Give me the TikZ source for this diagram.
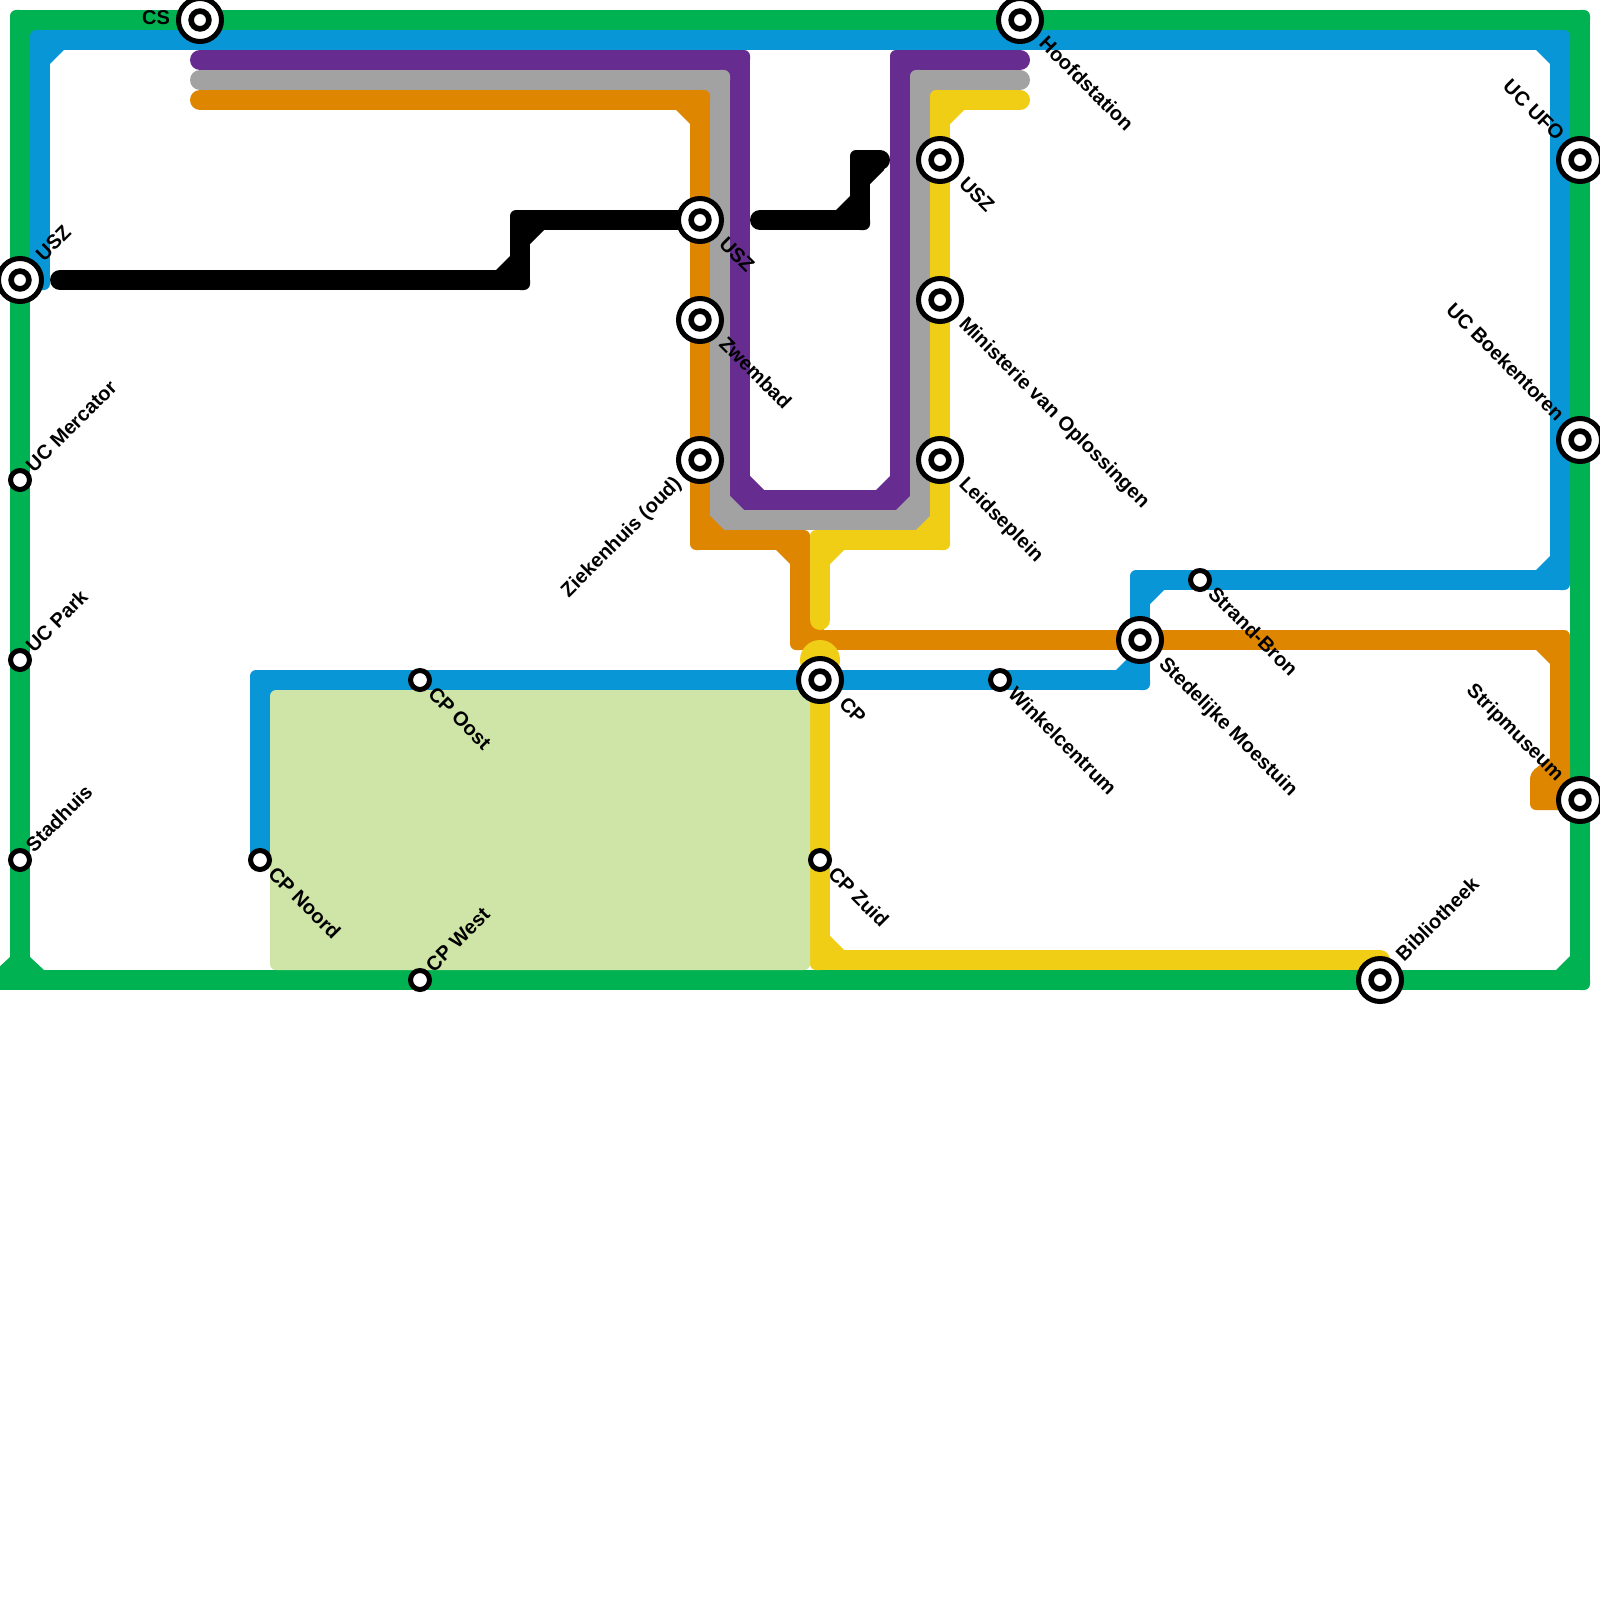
\documentclass[tikz,border=0pt]{standalone}
\usepackage{fontspec}
\setmainfont{Liberation Sans}
\definecolor{cgreen}{HTML}{00B251}
\definecolor{cblue}{HTML}{0896D7}
\definecolor{cpurple}{HTML}{662C90}
\definecolor{cgray}{HTML}{A2A2A2}
\definecolor{corange}{HTML}{DF8600}
\definecolor{cyellow}{HTML}{F0CE15}
\definecolor{carea}{HTML}{CFE4A7}
% corner patch: x, y, outward signs sx, sy, colour
% first part tightens the outer corner, second part adds the inner chamfer
\newcommand{\patch}[5]{%
  \fill[#5]
   (#1,#2) -- ({#1+10*#3},#2) -- ({#1+10*#3},{#2+4*#4})
   .. controls ({#1+10*#3},{#2+7.3*#4}) and ({#1+7.3*#3},{#2+10*#4}) .. ({#1+4*#3},{#2+10*#4})
   -- (#1,{#2+10*#4}) -- cycle
   ({#1-24*#3},{#2-10*#4}) -- ({#1-10*#3},{#2-24*#4}) -- ({#1-5*#3},{#2-24*#4}) -- ({#1-5*#3},{#2-5*#4}) -- ({#1-24*#3},{#2-5*#4}) -- cycle;}
\tikzset{
  metro/.style={line width=20pt,line cap=round,line join=round},
  lbl/.style={font=\fontsize{20}{24}\selectfont\bfseries,text=black,inner sep=0pt,outer sep=0pt},
  bigst/.style={circle,draw=black,fill=white,line width=5pt,minimum size=43pt,inner sep=0pt,outer sep=0pt,
    path picture={\draw[black,line width=5.6pt,fill=white] (path picture bounding box.center) circle (8.9pt);}},
  smallst/.style={circle,draw=black,fill=white,line width=5pt,minimum size=19pt,inner sep=0pt,outer sep=0pt},
}
\begin{document}
\begin{tikzpicture}[x=1pt,y=-1pt]
\useasboundingbox (0,0) rectangle (1600,1600);
\clip (0,0) rectangle (1600,1600);
\fill[white] (0,0) rectangle (1600,1600);
% waypoints
\foreach \n/\x/\y in {
 pa/200/60,pb/740/60,pc/740/500,pd/900/500,pe/900/60,pf/1020/60,
 ga/200/80,gb/720/80,gc/720/520,gd/920/520,ge/920/80,gf/1020/80,
 oa/200/100,ob/700/100,oc/700/540,od/800/540,oe/800/640,of/1560/640,og/1560/790,
 ya/1020/100,yb/940/100,yc/940/540,yd/820/540,ye/820/620,yf/820/960,yg/1380/960,yh/820/660,
 ka/60/280,kb/520/280,kc/520/220,kd/700/220,ke/760/220,kf/860/220,kg/860/160,kh/880/160,
 bz/20/280,ba/40/280,bb/40/40,bc/1560/40,bd/1560/580,be/1140/580,bf/1140/680,bg/260/680,bh/260/860,
 ea/20/980,eb/20/20,ec/1580/20,ed/1580/980,ee/0/980}
 {\coordinate (\n) at (\x,\y);}
% green
\draw[metro,cgreen,line cap=butt] (ea)--(eb)--(ec)--(ed)--(ee);
\patch{20}{20}{-1}{-1}{cgreen}\patch{1580}{20}{1}{-1}{cgreen}\patch{1580}{980}{1}{1}{cgreen}
\fill[cgreen] (30,957) -- (44,970) -- (44,975) -- (-4,975) -- (-4,970) -- (10,957) -- cycle;
% purple
\draw[metro,cpurple] (pa)--(pb)--(pc)--(pd)--(pe)--(pf);
\patch{740}{60}{1}{-1}{cpurple}\patch{740}{500}{-1}{1}{cpurple}\patch{900}{500}{1}{1}{cpurple}\patch{900}{60}{-1}{-1}{cpurple}
% gray
\draw[metro,cgray] (ga)--(gb)--(gc)--(gd)--(ge)--(gf);
\patch{720}{80}{1}{-1}{cgray}\patch{720}{520}{-1}{1}{cgray}\patch{920}{520}{1}{1}{cgray}\patch{920}{80}{-1}{-1}{cgray}
% orange
\draw[metro,corange] (oa)--(ob)--(oc)--(od)--(oe)--(of)--(og);
\patch{700}{100}{1}{-1}{corange}\patch{700}{540}{-1}{1}{corange}\patch{800}{540}{1}{-1}{corange}\patch{800}{640}{-1}{1}{corange}\patch{1560}{640}{1}{-1}{corange}
\fill[corange,rounded corners=6pt] (1570,757) -- (1550,757) -- (1530,773) -- (1530,810) -- (1570,810) -- cycle;
% yellow
\fill[cyellow] (yh) circle (20pt);
\draw[metro,cyellow] (ya)--(yb)--(yc)--(yd)--(ye);
\draw[metro,cyellow] (yh)--(yf)--(yg);
\patch{940}{100}{-1}{-1}{cyellow}\patch{940}{540}{1}{1}{cyellow}\patch{820}{540}{-1}{-1}{cyellow}\patch{820}{960}{-1}{1}{cyellow}
% black
\draw[metro,black] (ka)--(kb)--(kc)--(kd);
\patch{520}{280}{1}{1}{black}\patch{520}{220}{-1}{-1}{black}
\draw[metro,black] (ke)--(kf)--(kg)--(kh);
\patch{860}{220}{1}{1}{black}\patch{860}{160}{-1}{-1}{black}
% blue
\draw[metro,cblue] (bz)--(ba)--(bb)--(bc)--(bd)--(be)--(bf)--(bg)--(bh);
\patch{40}{280}{1}{1}{cblue}\patch{40}{40}{-1}{-1}{cblue}\patch{1560}{40}{1}{-1}{cblue}\patch{1560}{580}{1}{1}{cblue}\patch{1140}{580}{-1}{-1}{cblue}\patch{1140}{680}{1}{1}{cblue}\patch{260}{680}{-1}{-1}{cblue}
% area
\fill[carea,rounded corners=6pt] (270,690) rectangle (810,970);
% stations
\foreach \n/\x/\y in {s1/200/20,s2/1020/20,s3/1580/160,s4/1580/440,s5/1580/800,s6/1380/980,s7/20/280,
  s8/700/220,s9/700/320,s10/700/460,s11/940/160,s12/940/300,s13/940/460,s14/820/680,s15/1140/640}
  {\node[bigst] (\n) at (\x,\y) {};}
\foreach \n/\x/\y in {t1/20/480,t2/20/660,t3/20/860,t4/260/860,t5/420/680,t6/420/980,t7/820/860,t8/1000/680,t9/1200/580}
  {\node[smallst] (\n) at (\x,\y) {};}
% labels
\node[lbl,anchor=base east] (l1) at ([shift={(-30,5)}]s1.center) {CS};
\node[lbl,rotate=-45,anchor=base west] (l2) at ([shift={(18,25)}]s2.center) {Hoofdstation};
\node[lbl,rotate=-45,anchor=base east] (l3) at ([shift={(-24,-18)}]s3.center) {UC UFO};
\node[lbl,rotate=-45,anchor=base east] (l4) at ([shift={(-24,-18)}]s4.center) {UC Boekentoren};
\node[lbl,rotate=-45,anchor=base east] (l5) at ([shift={(-24,-18)}]s5.center) {Stripmuseum};
\node[lbl,rotate=45,anchor=base west] (l6) at ([shift={(24,-18)}]s6.center) {Bibliotheek};
\node[lbl,rotate=45,anchor=base west] (l7) at ([shift={(24,-18)}]s7.center) {USZ};
\node[lbl,rotate=-45,anchor=base west] (l8) at ([shift={(18,25)}]s8.center) {USZ};
\node[lbl,rotate=-45,anchor=base west] (l9) at ([shift={(18,25)}]s9.center) {Zwembad};
\node[lbl,rotate=45,anchor=base east] (l10) at ([shift={(-18,25)}]s10.center) {Ziekenhuis (oud)};
\node[lbl,rotate=-45,anchor=base west] (l11) at ([shift={(18,25)}]s11.center) {USZ};
\node[lbl,rotate=-45,anchor=base west] (l12) at ([shift={(18,25)}]s12.center) {Ministerie van Oplossingen};
\node[lbl,rotate=-45,anchor=base west] (l13) at ([shift={(18,25)}]s13.center) {Leidseplein};
\node[lbl,rotate=-45,anchor=base west] (l14) at ([shift={(18,25)}]s14.center) {CP};
\node[lbl,rotate=-45,anchor=base west] (l15) at ([shift={(18,25)}]s15.center) {Stedelijke Moestuin};
\node[lbl,rotate=45,anchor=base west] (l16) at ([shift={(14,-7)}]t1.center) {UC Mercator};
\node[lbl,rotate=45,anchor=base west] (l17) at ([shift={(14,-6.5)}]t2.center) {UC Park};
\node[lbl,rotate=45,anchor=base west] (l18) at ([shift={(14,-7)}]t3.center) {Stadhuis};
\node[lbl,rotate=-45,anchor=base west] (l19) at ([shift={(7,15)}]t4.center) {CP Noord};
\node[lbl,rotate=-45,anchor=base west] (l20) at ([shift={(7,15)}]t5.center) {CP Oost};
\node[lbl,rotate=45,anchor=base west] (l21) at ([shift={(14,-7)}]t6.center) {CP West};
\node[lbl,rotate=-45,anchor=base west] (l22) at ([shift={(7,15)}]t7.center) {CP Zuid};
\node[lbl,rotate=-45,anchor=base west] (l23) at ([shift={(7,15)}]t8.center) {Winkelcentrum};
\node[lbl,rotate=-45,anchor=base west] (l24) at ([shift={(7,15)}]t9.center) {Strand-Bron};
\end{tikzpicture}
\end{document}
